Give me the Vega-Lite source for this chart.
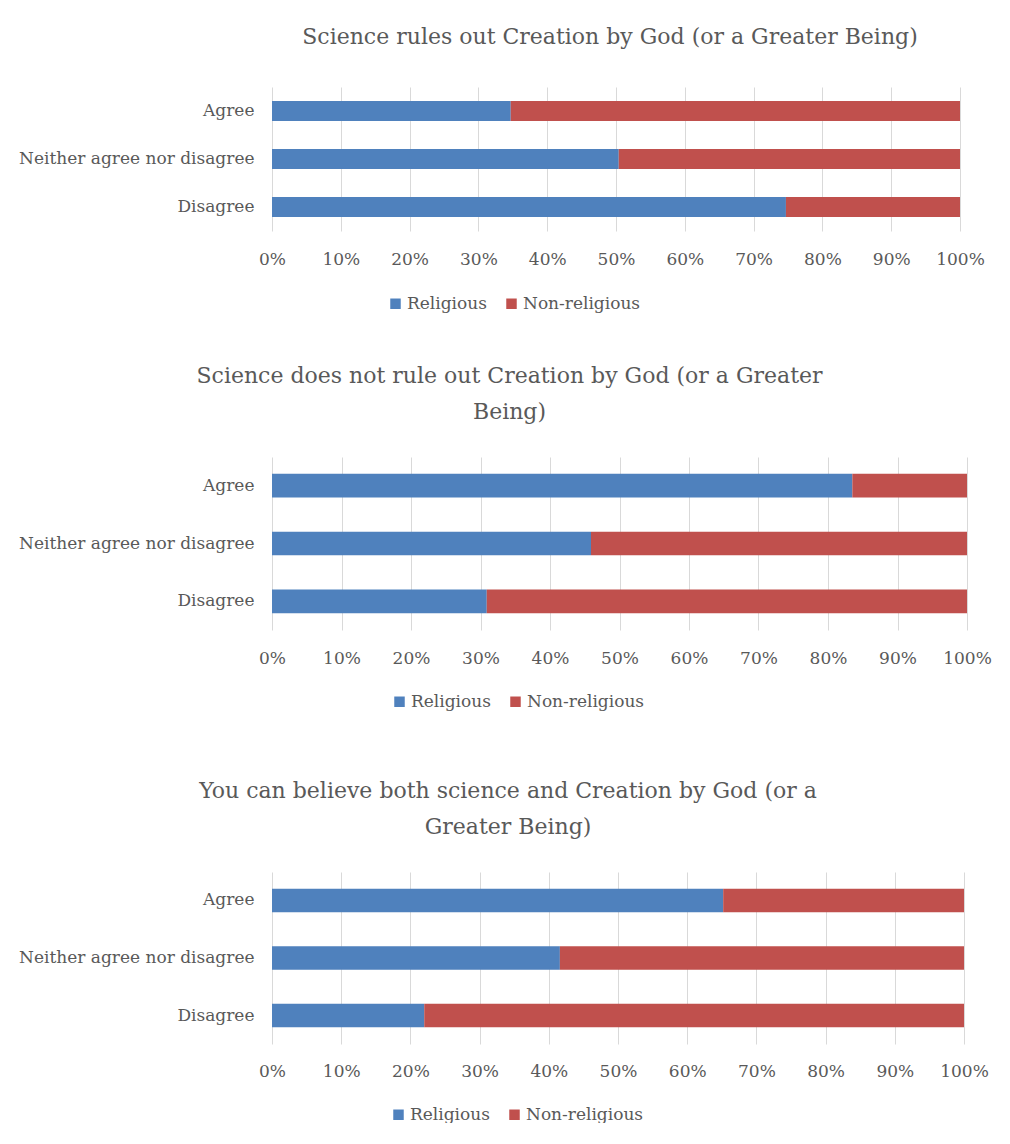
{
  "$schema": "https://vega.github.io/schema/vega-lite/v6.json",
  "padding": {"left": 10, "top": 26, "right": 10, "bottom": 0},
  "background": "white",
  "datasets": {
    "d": [
      {"chart": "A", "response": "Agree", "group": "Religious", "pct": 34.7},
      {"chart": "A", "response": "Agree", "group": "Non-religious", "pct": 65.3},
      {"chart": "A", "response": "Neither agree nor disagree", "group": "Religious", "pct": 50.4},
      {"chart": "A", "response": "Neither agree nor disagree", "group": "Non-religious", "pct": 49.6},
      {"chart": "A", "response": "Disagree", "group": "Religious", "pct": 74.7},
      {"chart": "A", "response": "Disagree", "group": "Non-religious", "pct": 25.3},
      {"chart": "B", "response": "Agree", "group": "Religious", "pct": 83.5},
      {"chart": "B", "response": "Agree", "group": "Non-religious", "pct": 16.5},
      {"chart": "B", "response": "Neither agree nor disagree", "group": "Religious", "pct": 45.9},
      {"chart": "B", "response": "Neither agree nor disagree", "group": "Non-religious", "pct": 54.1},
      {"chart": "B", "response": "Disagree", "group": "Religious", "pct": 30.9},
      {"chart": "B", "response": "Disagree", "group": "Non-religious", "pct": 69.1},
      {"chart": "C", "response": "Agree", "group": "Religious", "pct": 65.2},
      {"chart": "C", "response": "Agree", "group": "Non-religious", "pct": 34.8},
      {"chart": "C", "response": "Neither agree nor disagree", "group": "Religious", "pct": 41.6},
      {"chart": "C", "response": "Neither agree nor disagree", "group": "Non-religious", "pct": 58.4},
      {"chart": "C", "response": "Disagree", "group": "Religious", "pct": 22.0},
      {"chart": "C", "response": "Disagree", "group": "Non-religious", "pct": 78.0}
    ]
  },
  "config": {
    "font": "DejaVu Serif",
    "view": {"stroke": null},
    "axis": {"labelColor": "#595959", "labelFont": "DejaVu Serif", "labelFontSize": 17, "labelLimit": 400, "labelFlush": false, "labelOverlap": false, "grid": false, "domain": false, "ticks": false, "title": null},
    "title": {"font": "DejaVu Serif", "fontSize": 22, "fontWeight": "normal", "color": "#595959", "frame": "group", "anchor": "middle", "lineHeight": 36},
    "legend": {"labelFont": "DejaVu Serif", "labelFontSize": 17, "labelColor": "#595959", "symbolType": "square", "symbolSize": 110, "symbolStrokeWidth": 0, "columnPadding": 16, "labelOffset": 3, "direction": "horizontal", "orient": "none", "title": null}
  },
  "spacing": 53,
  "resolve": {"legend": {"color": "independent"}},
  "vconcat": [
    {
      "width": 688,
      "height": 144,
      "data": {"name": "d"},
      "title": {"text": "Science rules out Creation by God (or a Greater Being)", "offset": 38, "dx": -6},
      "transform": [{"filter": "datum.chart == 'A'"}],
      "mark": {"type": "bar"},
      "encoding": {
        "y": {"field": "response", "type": "nominal", "sort": ["Agree", "Neither agree nor disagree", "Disagree"], "scale": {"paddingInner": 0.58, "paddingOuter": 0.29}, "axis": {"labelPadding": 18, "minExtent": 262, "maxExtent": 262}},
        "x": {"field": "pct", "type": "quantitative", "stack": "zero", "scale": {"domain": [0, 100], "nice": false}, "axis": {"values": [0, 10, 20, 30, 40, 50, 60, 70, 80, 90, 100], "labelExpr": "datum.value + '%'", "grid": true, "gridColor": "#D9D9D9", "labelPadding": 20}},
        "color": {"field": "group", "type": "nominal", "scale": {"domain": ["Religious", "Non-religious"], "range": ["#4F81BD", "#C0504D"]}, "legend": {"legendX": 115, "legendY": 208}},
        "order": {"field": "group", "sort": "descending"}
      }
    },
    {
      "spacing": 70,
      "resolve": {"legend": {"color": "independent"}},
      "vconcat": [
        {
          "width": 695,
          "height": 173,
          "data": {"name": "d"},
          "title": {"text": ["Science does not rule out Creation by God (or a Greater", "Being)"], "offset": 33, "dx": -110},
          "transform": [{"filter": "datum.chart == 'B'"}],
          "mark": {"type": "bar"},
          "encoding": {
            "y": {"field": "response", "type": "nominal", "sort": ["Agree", "Neither agree nor disagree", "Disagree"], "scale": {"paddingInner": 0.59, "paddingOuter": 0.29}, "axis": {"labelPadding": 18, "minExtent": 262, "maxExtent": 262}},
            "x": {"field": "pct", "type": "quantitative", "stack": "zero", "scale": {"domain": [0, 100], "nice": false}, "axis": {"values": [0, 10, 20, 30, 40, 50, 60, 70, 80, 90, 100], "labelExpr": "datum.value + '%'", "grid": true, "gridColor": "#D9D9D9", "labelPadding": 20}},
            "color": {"field": "group", "type": "nominal", "scale": {"domain": ["Religious", "Non-religious"], "range": ["#4F81BD", "#C0504D"]}, "legend": {"legendX": 119, "legendY": 236}},
            "order": {"field": "group", "sort": "descending"}
          }
        },
        {
          "width": 692,
          "height": 172,
          "data": {"name": "d"},
          "title": {"text": ["You can believe both science and Creation by God (or a", "Greater  Being)"], "offset": 33, "dx": -110},
          "transform": [{"filter": "datum.chart == 'C'"}],
          "mark": {"type": "bar"},
          "encoding": {
            "y": {"field": "response", "type": "nominal", "sort": ["Agree", "Neither agree nor disagree", "Disagree"], "scale": {"paddingInner": 0.59, "paddingOuter": 0.29}, "axis": {"labelPadding": 18, "minExtent": 262, "maxExtent": 262}},
            "x": {"field": "pct", "type": "quantitative", "stack": "zero", "scale": {"domain": [0, 100], "nice": false}, "axis": {"values": [0, 10, 20, 30, 40, 50, 60, 70, 80, 90, 100], "labelExpr": "datum.value + '%'", "grid": true, "gridColor": "#D9D9D9", "labelPadding": 19}},
            "color": {"field": "group", "type": "nominal", "scale": {"domain": ["Religious", "Non-religious"], "range": ["#4F81BD", "#C0504D"]}, "legend": {"legendX": 118, "legendY": 234}},
            "order": {"field": "group", "sort": "descending"}
          }
        }
      ]
    }
  ]
}
